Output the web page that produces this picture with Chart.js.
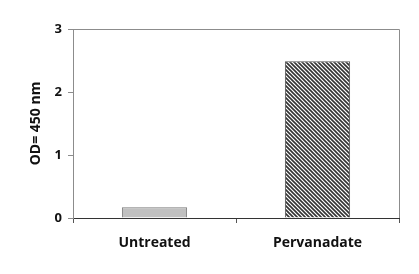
<!DOCTYPE html>
<html>
<head>
<meta charset="utf-8">
<script src="https://cdn.jsdelivr.net/npm/chart.js@4.4.1/dist/chart.umd.min.js"></script>
<style>
  html, body { margin: 0; padding: 0; background: #fff; }
  #wrap { width: 419px; height: 274px; }
</style>
</head>
<body>
<div id="wrap"><canvas id="barChart"></canvas></div>
<script>
// données
const categories = ['Untreated', 'Pervanadate'];
const odValues = [0.17, 2.49];
const yTicks = [0, 1, 2, 3];

// motif hachuré pour la deuxième barre
function hatch() {
    const c = document.createElement('canvas');
    c.width = 4; c.height = 4;
    const g = c.getContext('2d');
    g.fillStyle = '#ffffff';
    g.fillRect(0, 0, 4, 4);
    g.strokeStyle = '#333333';
    g.lineWidth = 1.6;
    g.beginPath();
    g.moveTo(-1, -1); g.lineTo(5, 5);
    g.moveTo(3, -1); g.lineTo(5, 1);
    g.moveTo(-1, 3); g.lineTo(1, 5);
    g.stroke();
    return g.createPattern(c, 'repeat');
}

// cadre de la zone de tracé (haut et droite)
const frame = {
    id: 'frame',
    beforeDatasetsDraw(chart) {
        const a = chart.chartArea, ctx = chart.ctx;
        ctx.save();
        ctx.strokeStyle = '#8c8c8c';
        ctx.lineWidth = 1;
        ctx.beginPath();
        ctx.moveTo(a.left, a.top + 0.5);
        ctx.lineTo(a.right + 0.5, a.top + 0.5);
        ctx.lineTo(a.right + 0.5, a.bottom);
        ctx.stroke();
        ctx.restore();
    }
};

const font = { family: '"Open Sans", "Liberation Sans", sans-serif', weight: 'bold', size: 13 };

const ctx = document.getElementById('barChart').getContext('2d');
const barChart = new Chart(ctx, {
    type: 'bar',
    data: {
        labels: categories,
        datasets: [{
            data: odValues,
            backgroundColor: ['#c0c0c0', hatch()],
            borderColor: ['#7a7a7a', '#555555'],
            borderWidth: 1,
            barPercentage: 0.4,
            categoryPercentage: 1
        }]
    },
    options: {
        responsive: true,
        maintainAspectRatio: false,
        animation: false,
        layout: { padding: { left: 0, right: 20, top: 29, bottom: 0 } },
        plugins: {
            legend: { display: false },
            tooltip: { enabled: false }
        },
        scales: {
            x: {
                grid: { offset: true, drawOnChartArea: false, tickLength: 5, tickColor: '#555', color: '#555' },
                border: { color: '#333', width: 1 },
                ticks: { color: '#111', font: { family: font.family, weight: 'bold', size: 14 }, padding: 12 },
                afterFit(s) { s.height = 56; }
            },
            y: {
                min: 0,
                max: 3,
                afterBuildTicks(s) { s.ticks = yTicks.map(v => ({ value: v })); },
                grid: { drawOnChartArea: false, tickLength: 5, tickColor: '#8c8c8c', color: '#8c8c8c' },
                border: { color: '#8c8c8c', width: 1 },
                ticks: { color: '#111', font: font, padding: 6 },
                title: { display: true, text: 'OD= 450 nm', color: '#111', font: { family: font.family, weight: 'bold', size: 14 }, padding: { top: 28, bottom: 0 } },
                afterFit(s) { s.width = 73; }
            }
        }
    },
    plugins: [frame]
});
</script>
</body>
</html>
